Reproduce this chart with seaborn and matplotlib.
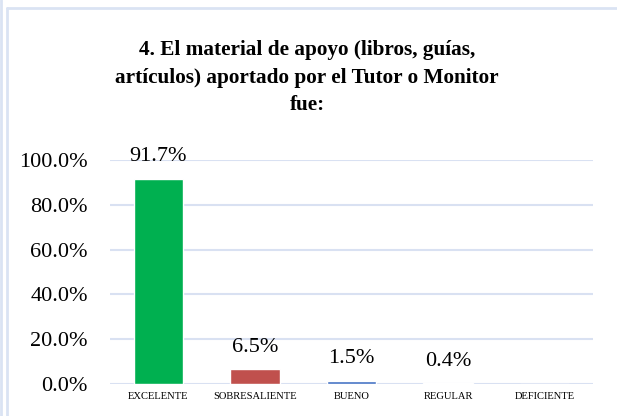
import matplotlib
matplotlib.use("Agg")
import matplotlib.pyplot as plt
import seaborn as sns
import pandas as pd
from matplotlib.lines import Line2D

# chart data
categories = ["EXCELENTE", "SOBRESALIENTE", "BUENO", "REGULAR", "DEFICIENTE"]
values = [91.7, 6.5, 1.5, 0.4, 0.0]
colors = ["#00B050", "#C0504D", "#4472C4", "#8064A2", "#F79646"]
title = "4. El material de apoyo (libros, guías,\nartículos) aportado por el Tutor o Monitor\nfue:"

sns.set_theme(style="white")
plt.rcParams["font.family"] = ["Liberation Serif", "DejaVu Serif"]
plt.rcParams["text.color"] = "black"
plt.rcParams["xtick.color"] = "black"
plt.rcParams["ytick.color"] = "black"

df = pd.DataFrame({"cat": categories, "val": values})

fig = plt.figure(figsize=(6.17, 4.16), dpi=100)
ax = fig.add_axes([0.1783, 0.0769, 0.7828, 0.5385])

sns.barplot(data=df, x="cat", y="val", hue="cat", palette=colors, saturation=1,
            legend=False, width=0.51, ax=ax, zorder=3)

ax.set_ylim(0, 100)
ax.set_yticks([0, 20, 40, 60, 80, 100])
ax.set_yticklabels([f"{t:.1f}%" for t in [0, 20, 40, 60, 80, 100]], fontsize=16)
ax.tick_params(axis="y", length=0, pad=16)
ax.tick_params(axis="x", length=0, labelsize=7.6, pad=6)
ax.set_xlabel("")
ax.set_ylabel("")
ax.grid(axis="y", color="#D9E1F2", linewidth=1.5, zorder=0)
for s in ax.spines.values():
    s.set_visible(False)

for i, v in enumerate(values):
    if v > 0:
        ax.annotate(f"{v:.1f}%", (i, v), xytext=(0, 9), textcoords="offset points",
                    ha="center", va="bottom", fontsize=16, color="black")

fig.text(0.498, 0.813, title, ha="center", va="center", fontsize=15.3,
         fontweight="bold", linespacing=1.5, color="black")

# outer frame lines
frame = "#DAE3F3"
fig.add_artist(Line2D([0.002, 0.002], [0, 1], color=frame, lw=2, transform=fig.transFigure))
fig.add_artist(Line2D([0.011, 0.011], [0, 0.981], color=frame, lw=2, transform=fig.transFigure))
fig.add_artist(Line2D([0.011, 1.0], [0.981, 0.981], color=frame, lw=2, transform=fig.transFigure))

fig.savefig("out.png", dpi=100)
